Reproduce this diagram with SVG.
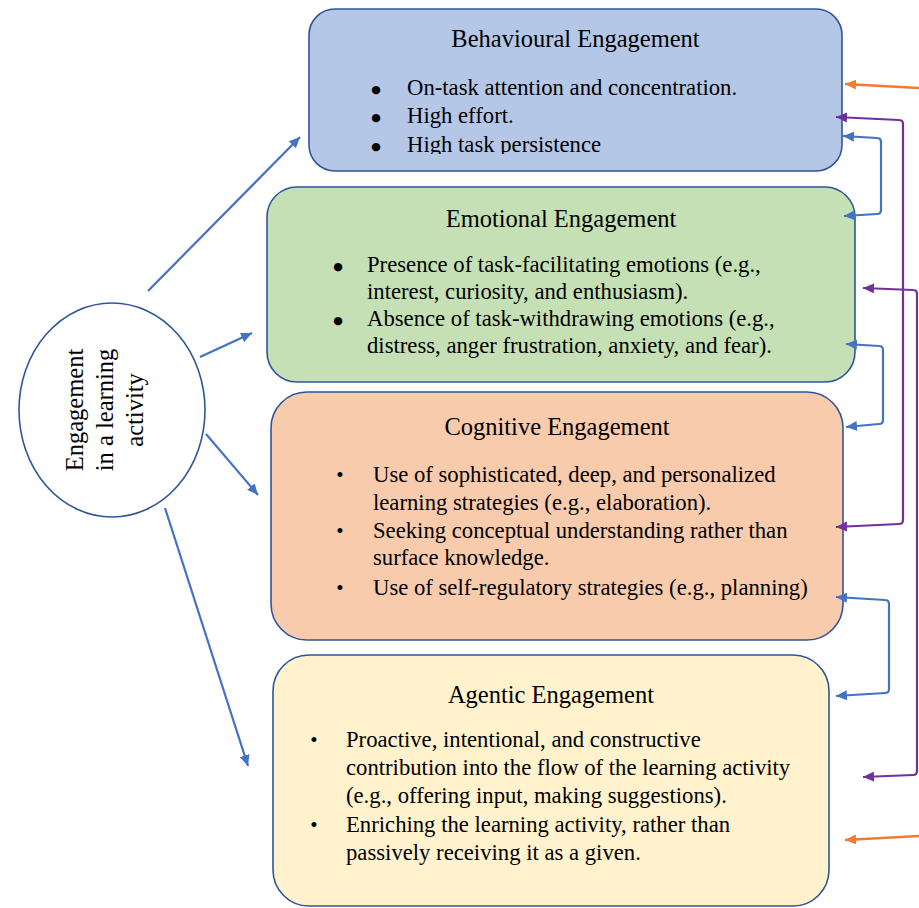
<svg xmlns="http://www.w3.org/2000/svg" width="919" height="908" viewBox="0 0 919 908">
<style>
text{font-family:"Liberation Serif","Times New Roman",serif;fill:#000}
.t{font-size:24.5px;text-anchor:middle}
.b{font-size:22.7px}
.bl{font-family:"DejaVu Sans",sans-serif;font-size:11px;text-anchor:middle}
.bs{font-size:21px;text-anchor:middle}
.box{stroke:#2F5597;stroke-width:1.6}
.c{fill:none;stroke-width:2.2;stroke-linejoin:round}
.blue{stroke:#4472C4}
.pur{stroke:#7030A0}
.org{stroke:#ED7D31;stroke-width:2.5}
</style>
<defs>
<marker id="ab" viewBox="0 0 11 10" refX="11" refY="5" markerWidth="11" markerHeight="10" markerUnits="userSpaceOnUse" orient="auto-start-reverse"><path d="M0,0 L11,5 L0,10 z" fill="#4472C4"/></marker>
<marker id="ap" viewBox="0 0 11 10" refX="11" refY="5" markerWidth="11" markerHeight="10" markerUnits="userSpaceOnUse" orient="auto-start-reverse"><path d="M0,0 L11,5 L0,10 z" fill="#7030A0"/></marker>
<marker id="ao" viewBox="0 0 11 10" refX="11" refY="5" markerWidth="11" markerHeight="10" markerUnits="userSpaceOnUse" orient="auto-start-reverse"><path d="M0,0 L11,5 L0,10 z" fill="#ED7D31"/></marker>
<clipPath id="clip1"><rect x="309" y="9" width="533" height="145"/></clipPath>
</defs>

<g id="source">
<ellipse cx="112" cy="410" rx="93" ry="107" fill="#fff" stroke="#2F5597" stroke-width="1.6"/>
<g transform="translate(112,410) rotate(-90)">
<text class="t" x="0" y="-29">Engagement</text>
<text class="t" x="0" y="1">in a learning</text>
<text class="t" x="0" y="31">activity</text>
</g>
</g>

<g id="behavioural">
<rect class="box" x="309" y="9" width="533" height="162" rx="26" fill="#B4C7E7"/>
<text class="t" x="575.5" y="47">Behavioural Engagement</text>
<g clip-path="url(#clip1)">
<text class="bl" x="376" y="92.5">●</text>
<text class="b" x="407" y="95">On-task attention and concentration.</text>
<text class="bl" x="376" y="120.5">●</text>
<text class="b" x="407" y="123">High effort.</text>
<text class="bl" x="376" y="149.5">●</text>
<text class="b" x="407" y="152">High task persistence</text>
</g>
</g>

<g id="emotional">
<rect class="box" x="267" y="187" width="588" height="195" rx="30" fill="#C5E0B4"/>
<text class="t" x="561" y="227">Emotional Engagement</text>
<text class="bl" x="338" y="269.5">●</text>
<text class="b" x="367" y="272">Presence of task-facilitating emotions (e.g.,</text>
<text class="b" x="367" y="299">interest, curiosity, and enthusiasm).</text>
<text class="bl" x="338" y="323.5">●</text>
<text class="b" x="367" y="326">Absence of task-withdrawing emotions (e.g.,</text>
<text class="b" x="367" y="353">distress, anger frustration, anxiety, and fear).</text>
</g>

<g id="cognitive">
<rect class="box" x="271" y="392" width="572" height="248" rx="36" fill="#F8CBAD"/>
<text class="t" x="557" y="435">Cognitive Engagement</text>
<text class="bs" x="340" y="482">•</text>
<text class="b" x="373" y="482">Use of sophisticated, deep, and personalized</text>
<text class="b" x="373" y="510">learning strategies (e.g., elaboration).</text>
<text class="bs" x="340" y="538">•</text>
<text class="b" x="373" y="538">Seeking conceptual understanding rather than</text>
<text class="b" x="373" y="565">surface knowledge.</text>
<text class="bs" x="340" y="595">•</text>
<text class="b" x="373" y="595">Use of self-regulatory strategies (e.g., planning)</text>
</g>

<g id="agentic">
<rect class="box" x="273" y="655" width="556" height="251" rx="36" fill="#FFF2CC"/>
<text class="t" x="551" y="703">Agentic Engagement</text>
<text class="bs" x="314" y="747">•</text>
<text class="b" x="346" y="747">Proactive, intentional, and constructive</text>
<text class="b" x="346" y="775">contribution into the flow of the learning activity</text>
<text class="b" x="346" y="803">(e.g., offering input, making suggestions).</text>
<text class="bs" x="314" y="832">•</text>
<text class="b" x="346" y="832">Enriching the learning activity, rather than</text>
<text class="b" x="346" y="860">passively receiving it as a given.</text>
</g>

<g id="connectors">
<path class="c blue" d="M148,291 L300,137" marker-end="url(#ab)"/>
<path class="c blue" d="M200,357 L252,333" marker-end="url(#ab)"/>
<path class="c blue" d="M206,434 L258,495" marker-end="url(#ab)"/>
<path class="c blue" d="M165,508 L248,766" marker-end="url(#ab)"/>

<path class="c org" d="M919,88 L845,84" marker-end="url(#ao)"/>
<path class="c org" d="M919,836 L845,840" marker-end="url(#ao)"/>

<path class="c pur" d="M836,117 L899,120 Q903,120 903,124 L903,520 Q903,524 899,524 L836,527" marker-start="url(#ap)" marker-end="url(#ap)"/>
<path class="c pur" d="M863,288 L913,290 Q917,290 917,294 L917,771 Q917,775 913,775 L863,777" marker-start="url(#ap)" marker-end="url(#ap)"/>

<path class="c blue" d="M843,136 L877,138 Q881,138 881,142 L881,210 Q881,214 877,214 L844,216" marker-start="url(#ab)" marker-end="url(#ab)"/>
<path class="c blue" d="M846,344 L879,346 Q883,346 883,350 L883,420 Q883,424 879,424 L846,427" marker-start="url(#ab)" marker-end="url(#ab)"/>
<path class="c blue" d="M836,597 L885,600 Q889,600 889,604 L889,689 Q889,693 885,693 L836,696" marker-start="url(#ab)" marker-end="url(#ab)"/>
</g>
</svg>
